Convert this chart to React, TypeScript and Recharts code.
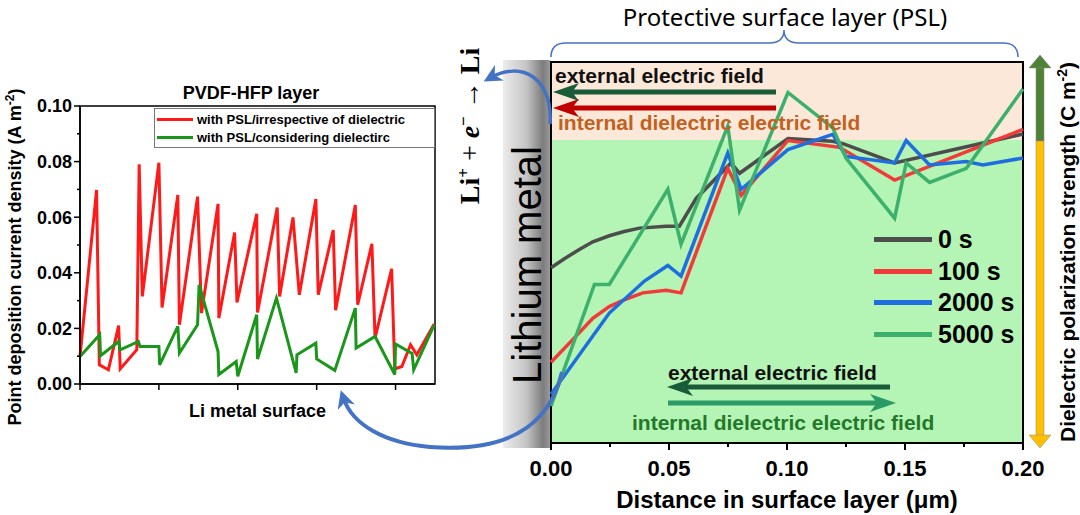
import React from "react";
import { LineChart, Line, XAxis, YAxis, ReferenceArea, Legend } from "recharts";

// left panel (PVDF-HFP layer), x = position along the Li surface (arb.)
const posRed = [0, 0.21, 0.245, 0.36, 0.49, 0.51, 0.72, 0.75, 0.79, 1.0, 1.04, 1.24, 1.26, 1.49, 1.54, 1.75, 1.76, 1.96, 1.99, 2.24, 2.25, 2.5, 2.53, 2.7, 2.78, 2.99, 3.02, 3.21, 3.24, 3.49, 3.52, 3.7, 3.74, 3.95, 3.99, 4.08, 4.19, 4.27, 4.49];
const currRed = [0.0099, 0.0698, 0.0069, 0.0051, 0.021, 0.0054, 0.0123, 0.079, 0.0315, 0.0796, 0.0275, 0.068, 0.0213, 0.0674, 0.0255, 0.0648, 0.0237, 0.0545, 0.0293, 0.0612, 0.0257, 0.0635, 0.0315, 0.0599, 0.0321, 0.0665, 0.0321, 0.0554, 0.0265, 0.0644, 0.0285, 0.0504, 0.0165, 0.0414, 0.0054, 0.0063, 0.0141, 0.0105, 0.0216];
const posGreen = [0, 0.25, 0.26, 0.49, 0.51, 0.74, 0.76, 1.0, 1.01, 1.24, 1.26, 1.49, 1.51, 1.75, 1.76, 1.98, 2.0, 2.24, 2.25, 2.49, 2.74, 2.75, 2.99, 3.0, 3.23, 3.49, 3.5, 3.74, 3.99, 4.0, 4.21, 4.23, 4.49];
const currGreen = [0.0099, 0.0177, 0.0102, 0.0153, 0.0123, 0.0153, 0.0135, 0.0135, 0.0069, 0.0207, 0.0111, 0.0213, 0.0357, 0.0117, 0.0034, 0.0081, 0.0028, 0.0249, 0.009, 0.0309, 0.004, 0.0105, 0.0147, 0.009, 0.0049, 0.0273, 0.0129, 0.0171, 0.0034, 0.0144, 0.011, 0.0051, 0.0213];
const leftNames = ["with PSL/irrespective of dielectric", "with PSL/considering dielectirc"];
const leftYTicks = [0, 0.01, 0.02, 0.03, 0.04, 0.05, 0.06, 0.07, 0.08, 0.09, 0.1];
const leftXTicks = [0, 1, 2, 3, 4];

// right panel, polarization (relative) vs distance in surface layer (um)
const dist0 = [0, 0.006, 0.012, 0.0177, 0.0247, 0.031, 0.0375, 0.0488, 0.0544, 0.0615, 0.0763, 0.0799, 0.1004, 0.1194, 0.124, 0.1456, 0.2];
const pol0 = [0.46, 0.485, 0.508, 0.528, 0.544, 0.555, 0.564, 0.569, 0.569, 0.642, 0.735, 0.708, 0.799, 0.792, 0.785, 0.735, 0.811];
const dist100 = [0, 0.009, 0.0177, 0.0247, 0.031, 0.0389, 0.0488, 0.0551, 0.0749, 0.0806, 0.1004, 0.1223, 0.1456, 0.2];
const pol100 = [0.212, 0.27, 0.327, 0.358, 0.376, 0.394, 0.401, 0.394, 0.721, 0.65, 0.794, 0.776, 0.69, 0.823];
const dist2000 = [0, 0.0247, 0.0396, 0.0495, 0.0551, 0.0749, 0.0806, 0.1004, 0.1194, 0.125, 0.1456, 0.1505, 0.1604, 0.176, 0.183, 0.2];
const pol2000 = [0.128, 0.341, 0.425, 0.466, 0.438, 0.761, 0.666, 0.77, 0.81, 0.752, 0.735, 0.794, 0.73, 0.739, 0.73, 0.748];
const dist5000 = [0, 0.0184, 0.0247, 0.0495, 0.0551, 0.0749, 0.0799, 0.1004, 0.1194, 0.125, 0.1456, 0.1505, 0.1604, 0.176, 0.2];
const pol5000 = [0.097, 0.416, 0.416, 0.666, 0.522, 0.832, 0.611, 0.92, 0.827, 0.748, 0.59, 0.735, 0.684, 0.721, 0.929];
const mainNames = ["0 s", "100 s", "2000 s", "5000 s"];
const distTicks = [0, 0.025, 0.05, 0.075, 0.1, 0.125, 0.15, 0.175, 0.2];
const pslTop = 0.795;

const pts = (xs: number[], ys: number[]) => xs.map((x, i) => ({ x, y: ys[i] }));
const ordered = (payload: any[] | undefined, names: string[]) =>
  names.map((n) => (payload || []).find((p: any) => p.value === n)).filter(Boolean);

const FONT = "'Liberation Sans', Arial, sans-serif";

const LeftYTick = (props: any) => {
  const { x, y, payload } = props;
  const major = Math.round(payload.value * 100) % 2 === 0;
  return (
    <g>
      <line x1={x} x2={x - (major ? 6 : 3)} y1={y} y2={y} stroke="#000" strokeWidth={1.5} />
      {major && (
        <text x={x - 8} y={y} dy="0.36em" textAnchor="end" fontSize={18} fontWeight="bold" fill="#000">
          {payload.value.toFixed(2)}
        </text>
      )}
    </g>
  );
};

const LeftXTick = (props: any) => {
  const { x, y } = props;
  return <line x1={x} x2={x} y1={y} y2={y + 6} stroke="#000" strokeWidth={1.5} />;
};

const MainXTick = (props: any) => {
  const { x, y, payload, index } = props;
  const major = index % 2 === 0;
  return (
    <g>
      <line x1={x} x2={x} y1={y} y2={y + (major ? 7 : 4)} stroke="#000" strokeWidth={2} />
      {major && (
        <text x={x} y={y + 25} dy="0.36em" textAnchor="middle" fontSize={22} fontWeight="bold" fill="#000">
          {payload.value.toFixed(2)}
        </text>
      )}
    </g>
  );
};

const LeftLegend = (props: any) => (
  <div style={{ border: "1px solid #777", background: "#fff", padding: "1px 0 1px 2px" }}>
    {ordered(props.payload, leftNames).map((p: any) => (
      <div key={p.value} style={{ display: "flex", alignItems: "center", height: 18 }}>
        <div style={{ width: 36, height: 3, background: p.color, marginRight: 4 }} />
        <span style={{ fontSize: 13, fontWeight: "bold", color: "#000", whiteSpace: "nowrap" }}>{p.value}</span>
      </div>
    ))}
  </div>
);

const MainLegend = (props: any) => (
  <div>
    {ordered(props.payload, mainNames).map((p: any) => (
      <div key={p.value} style={{ display: "flex", alignItems: "center", height: 31.5 }}>
        <div style={{ width: 58, height: 5, background: p.color, marginRight: 6 }} />
        <span style={{ fontSize: 25, fontWeight: "bold", color: "#000", whiteSpace: "nowrap" }}>{p.value}</span>
      </div>
    ))}
  </div>
);

const Head = ({ tip, y, dir, color }: { tip: number; y: number; dir: 1 | -1; color: string }) => (
  <polygon
    points={`${tip},${y} ${tip + dir * 26},${y - 9} ${tip + dir * 19},${y} ${tip + dir * 26},${y + 9}`}
    fill={color}
  />
);

export default function App() {
  return (
    <div style={{ position: "absolute", left: 0, top: 0, width: 1080, height: 515, background: "#fff", fontFamily: FONT }}>
      <div style={{ position: "absolute", left: 0, top: 0 }}>
        <LineChart width={450} height={432} margin={{ top: 106, right: 15, bottom: 0, left: 0 }}>
          <XAxis
            type="number"
            dataKey="x"
            domain={[0, 4.5]}
            ticks={leftXTicks}
            tickSize={0}
            tickMargin={0}
            tick={<LeftXTick />}
            height={48}
            axisLine={{ stroke: "#000", strokeWidth: 1.5 }}
            tickLine={false}
            label={{ value: "Li metal surface", position: "insideBottom", offset: 15, fontSize: 18, fontWeight: "bold", fill: "#000" }}
          />
          <YAxis
            type="number"
            domain={[0, 0.1]}
            ticks={leftYTicks}
            width={80}
            tickSize={0}
            tickMargin={0}
            tick={<LeftYTick />}
            axisLine={{ stroke: "#000", strokeWidth: 1.5 }}
            tickLine={false}
          />
          <ReferenceArea x1={0} x2={4.5} y1={0} y2={0.1} fill="none" stroke="#000" strokeWidth={1.5} />
          <Legend
            layout="vertical"
            align="center"
            verticalAlign="middle"
            content={<LeftLegend />}
            wrapperStyle={{ left: 154, top: 108, width: 281 }}
          />
          <Line data={pts(posRed, currRed)} dataKey="y" name={leftNames[0]} stroke="#ff1a1a" strokeWidth={3} dot={false} isAnimationActive={false} />
          <Line data={pts(posGreen, currGreen)} dataKey="y" name={leftNames[1]} stroke="#1a961a" strokeWidth={3} dot={false} isAnimationActive={false} />
        </LineChart>
      </div>

      <div style={{ position: "absolute", left: 0, top: 0 }}>
        <LineChart width={1080} height={515} margin={{ top: 62, right: 57, bottom: 0, left: 551 }}>
          <XAxis
            type="number"
            dataKey="x"
            domain={[0, 0.2]}
            ticks={distTicks}
            tickSize={0}
            tickMargin={0}
            tick={<MainXTick />}
            height={72}
            axisLine={{ stroke: "#000", strokeWidth: 2 }}
            tickLine={false}
            label={{ value: "Distance in surface layer (\u03bcm)", position: "insideBottom", offset: 7, fontSize: 24, fontWeight: "bold", fill: "#000" }}
          />
          <YAxis type="number" domain={[0, 1]} hide />
          <ReferenceArea x1={0} x2={0.2} y1={pslTop} y2={1} fill="#fce8d9" fillOpacity={1} stroke="none" />
          <ReferenceArea x1={0} x2={0.2} y1={0} y2={pslTop} fill="#b4f4b4" fillOpacity={1} stroke="none" />
          <ReferenceArea x1={0} x2={0.2} y1={0} y2={1} fill="none" stroke="#000" strokeWidth={2} />
          <Legend
            layout="vertical"
            align="center"
            verticalAlign="middle"
            content={<MainLegend />}
            wrapperStyle={{ left: 874, top: 224, width: 170 }}
          />
          <Line data={pts(dist0, pol0)} dataKey="y" name={mainNames[0]} stroke="#4d4d4d" strokeWidth={3.5} dot={false} isAnimationActive={false} />
          <Line data={pts(dist100, pol100)} dataKey="y" name={mainNames[1]} stroke="#f23a3a" strokeWidth={3.5} dot={false} isAnimationActive={false} />
          <Line data={pts(dist2000, pol2000)} dataKey="y" name={mainNames[2]} stroke="#1f6ee0" strokeWidth={3.5} dot={false} isAnimationActive={false} />
          <Line data={pts(dist5000, pol5000)} dataKey="y" name={mainNames[3]} stroke="#3cb06c" strokeWidth={3.5} dot={false} isAnimationActive={false} />
        </LineChart>
      </div>

      <svg width={1080} height={515} style={{ position: "absolute", left: 0, top: 0, pointerEvents: "none" }}>
        <defs>
          <linearGradient id="liBand" x1="0" x2="1" y1="0" y2="0">
            <stop offset="0" stopColor="#ececec" />
            <stop offset="0.5" stopColor="#c4c4c4" />
            <stop offset="0.85" stopColor="#7c7c7c" />
            <stop offset="1" stopColor="#9a9a9a" />
          </linearGradient>
          <marker id="blueHead" viewBox="0 0 10 10" refX="6" refY="5" markerWidth="18" markerHeight="18" markerUnits="userSpaceOnUse" orient="auto">
            <path d="M0,0 L10,5 L0,10 L3,5 z" fill="#4472c4" />
          </marker>
        </defs>

        {/* lithium metal band */}
        <rect x={503} y={60} width={47} height={388} fill="url(#liBand)" />
        <text x={0} y={0} transform="translate(541,265) rotate(-90)" textAnchor="middle" fontSize={40} fill="#000" fontFamily={FONT}>
          Lithium metal
        </text>

        {/* Li+ + e- -> Li */}
        <text x={0} y={0} transform="translate(479,126) rotate(-90)" textAnchor="middle" fontSize={28} fontWeight="bold" fill="#000" fontFamily="'Liberation Serif', 'DejaVu Serif', serif">
          <tspan>Li</tspan>
          <tspan fontSize={17} dy={-10}>+</tspan>
          <tspan dy={10} fontWeight="normal"> + </tspan>
          <tspan fontStyle="italic">e</tspan>
          <tspan fontSize={17} dy={-10}>{"\u2212"}</tspan>
          <tspan dy={10} fontWeight="normal"> {"\u2192"} </tspan>
          <tspan>Li</tspan>
        </text>

        {/* blue curved arrows */}
        <path d="M 550 124 C 553 78, 522 60, 490 78" fill="none" stroke="#4472c4" strokeWidth={3.5} markerEnd="url(#blueHead)" />
        <path d="M 562 372 C 548 432, 500 452, 430 447 C 385 443, 352 425, 343 397" fill="none" stroke="#4472c4" strokeWidth={4} markerEnd="url(#blueHead)" />

        {/* PSL brace + title */}
        <path d="M 551 57 Q 551 43 566 43 L 769 43 Q 784 43 784 30 Q 784 43 799 43 L 1003 43 Q 1018 43 1018 57" fill="none" stroke="#4472c4" strokeWidth={1.5} />
        <text x={785} y={26} textAnchor="middle" fontSize={24} fill="#000" fontFamily="'Noto Sans', sans-serif">
          Protective surface layer (PSL)
        </text>

        {/* field annotations, top */}
        <text x={555} y={75} dy="0.36em" fontSize={21} fontWeight="bold" fill="#111" fontFamily={FONT}>external electric field</text>
        <line x1={572} x2={776} y1={92} y2={92} stroke="#1a5c3a" strokeWidth={5} />
        <Head tip={553} y={92} dir={1} color="#1a5c3a" />
        <line x1={572} x2={776} y1={108} y2={108} stroke="#c00000" strokeWidth={5} />
        <Head tip={553} y={108} dir={1} color="#c00000" />
        <text x={558} y={122} dy="0.36em" fontSize={21} fontWeight="bold" fill="#c4601e" fontFamily={FONT}>internal dielectric electric field</text>

        {/* field annotations, bottom */}
        <text x={668} y={372} dy="0.36em" fontSize={21} fontWeight="bold" fill="#111" fontFamily={FONT}>external electric field</text>
        <line x1={686} x2={890} y1={387} y2={387} stroke="#1a5c3a" strokeWidth={5} />
        <Head tip={667} y={387} dir={1} color="#1a5c3a" />
        <line x1={668} x2={877} y1={403} y2={403} stroke="#2a9a66" strokeWidth={5} />
        <Head tip={896} y={403} dir={-1} color="#2a9a66" />
        <text x={632} y={422} dy="0.36em" fontSize={21} fontWeight="bold" fill="#24782a" fontFamily={FONT}>internal dielectric electric field</text>

        {/* left panel title and y label */}
        <text x={251} y={93} dy="0.36em" textAnchor="middle" fontSize={18} fontWeight="bold" fill="#000" fontFamily={FONT}>PVDF-HFP layer</text>
        <text x={0} y={0} transform="translate(21,257) rotate(-90)" textAnchor="middle" fontSize={18} fontWeight="bold" fill="#000" fontFamily={FONT}>
          Point deposition current density (A m<tspan fontSize={12} dy={-7}>-2</tspan><tspan dy={7}>)</tspan>
        </text>

        {/* polarization strength bar */}
        <rect x={1036} y={66} width={8} height={75} fill="#4f8236" stroke="#888" strokeWidth={0.5} />
        <rect x={1036} y={141} width={8} height={296} fill="#ffc000" stroke="#888" strokeWidth={0.5} />
        <polygon points="1029,68 1040,55 1051,68" fill="#4f8236" stroke="#888" strokeWidth={0.5} />
        <polygon points="1029,435 1040,448 1051,435" fill="#ffc000" stroke="#888" strokeWidth={0.5} />
        <text x={0} y={0} transform="translate(1075,252) rotate(-90)" textAnchor="middle" fontSize={21} fontWeight="bold" fill="#000" fontFamily={FONT}>
          Dielectric polarization strength (C m<tspan fontSize={14} dy={-8}>-2</tspan><tspan dy={8}>)</tspan>
        </text>
      </svg>
    </div>
  );
}
